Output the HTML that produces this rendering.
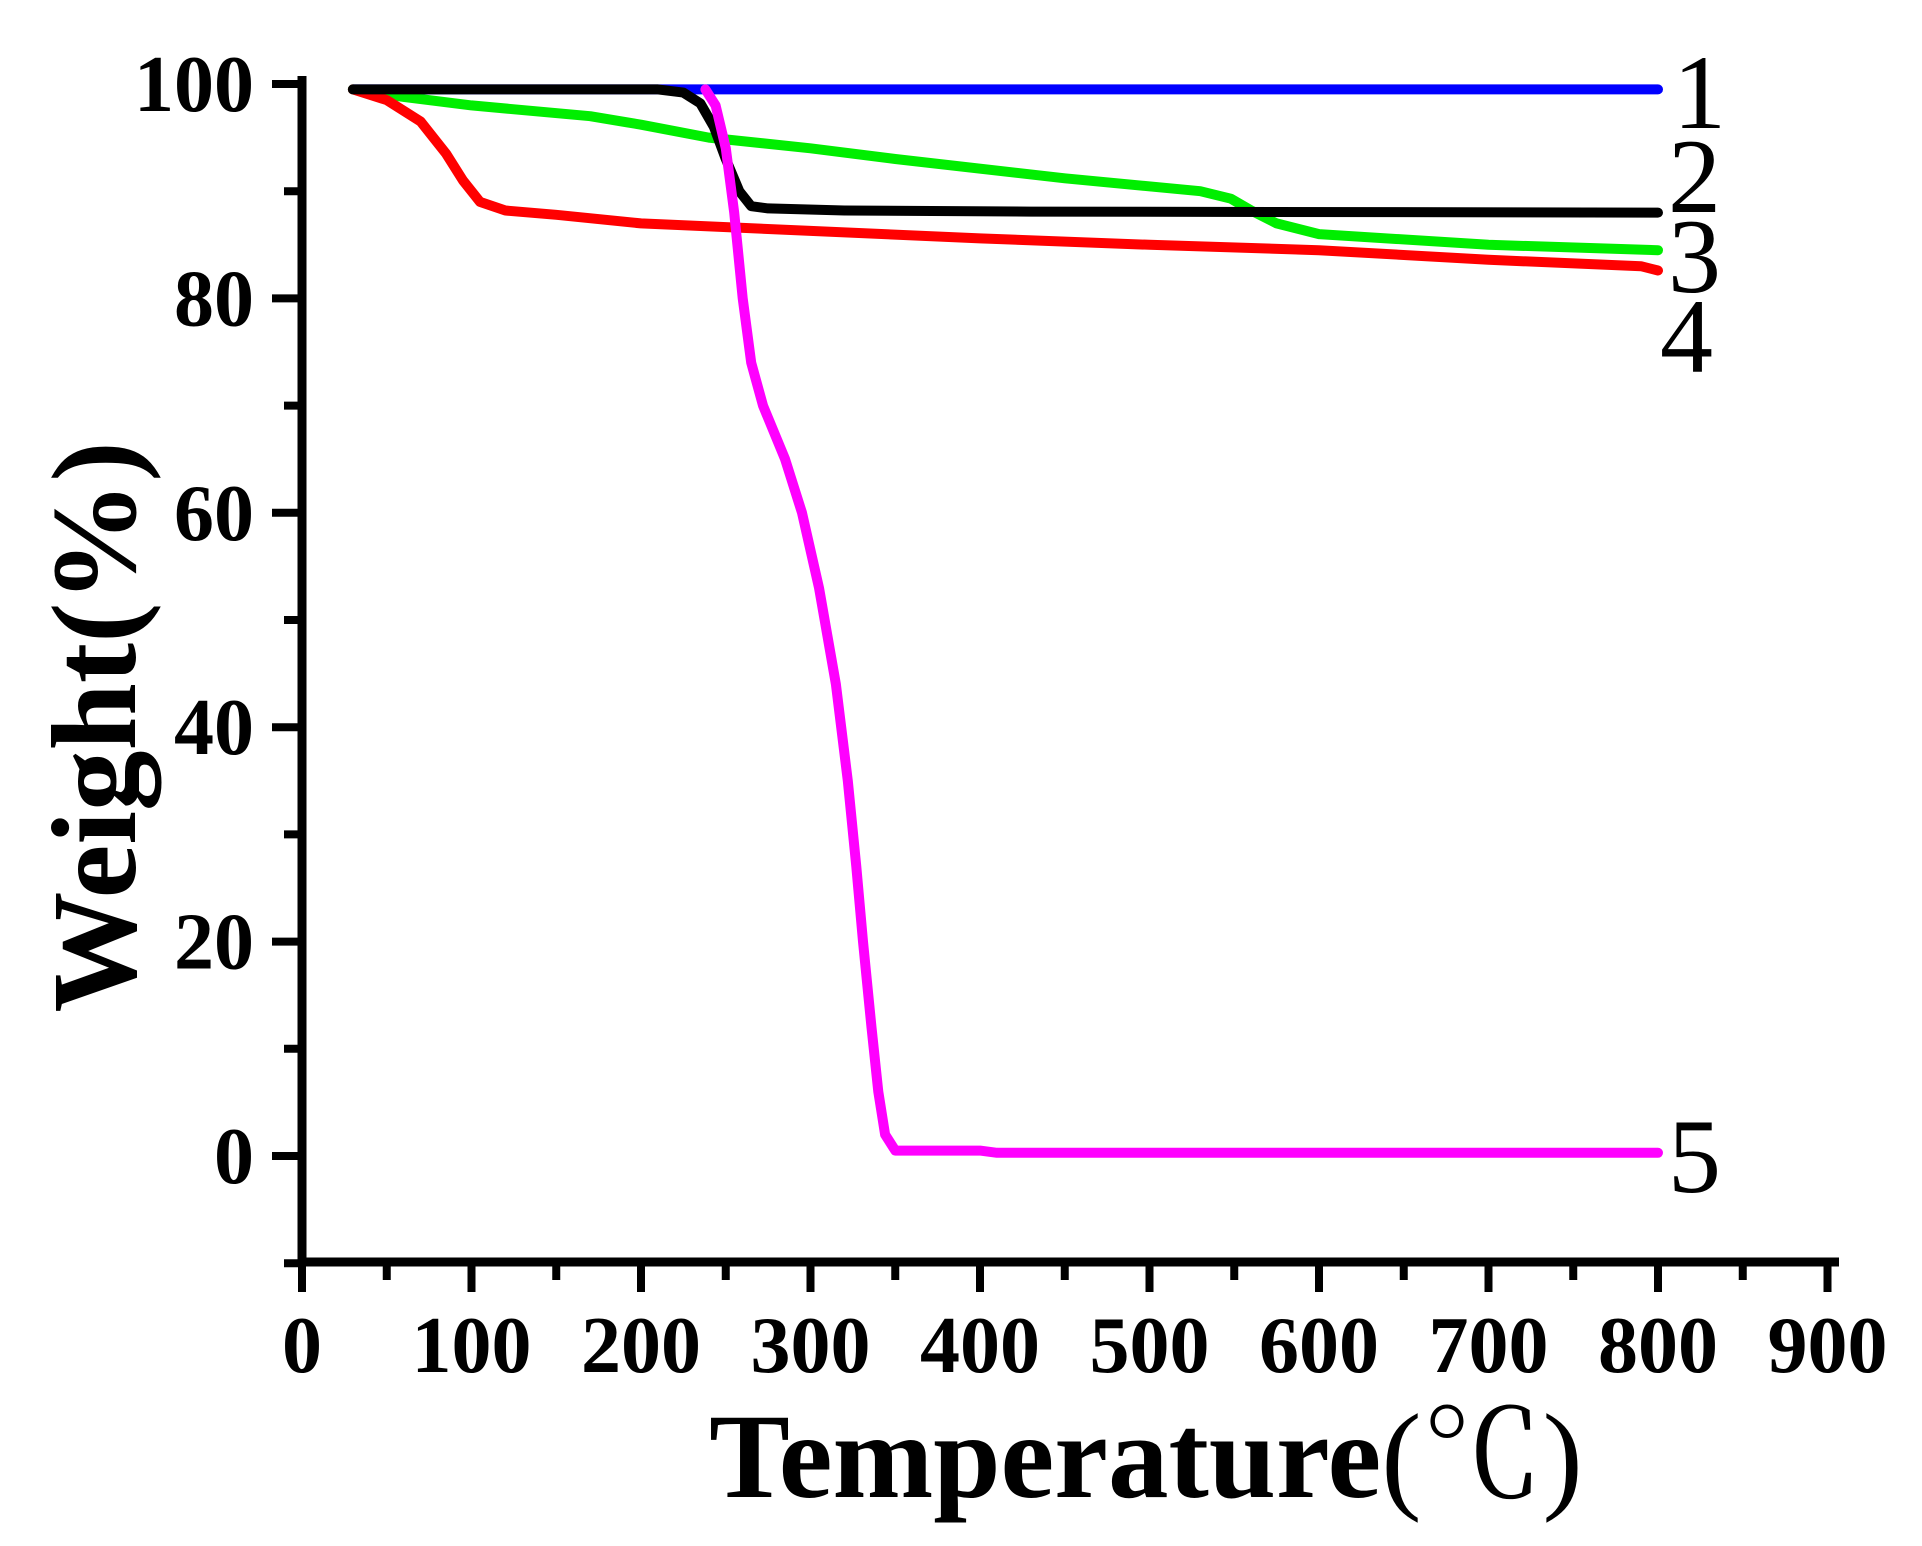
<!DOCTYPE html>
<html><head><meta charset="utf-8"><style>
html,body{margin:0;padding:0;background:#fff;}
svg{display:block;}
.tk{font-family:"Liberation Serif","Noto Serif CJK SC",serif;font-weight:bold;font-size:80px;fill:#000;}
.lb{font-family:"Liberation Serif",serif;font-size:106px;fill:#000;}
.tt{font-family:"Liberation Serif","Noto Serif CJK SC",serif;font-weight:bold;font-size:121px;fill:#000;}
.cj{font-family:"Liberation Serif","Noto Serif CJK SC",serif;font-weight:normal;}
</style></head><body>
<svg width="1922" height="1546" viewBox="0 0 1922 1546" xmlns="http://www.w3.org/2000/svg">
<g id="plot" fill="none" stroke-linejoin="round" stroke-linecap="round"></g>
<g stroke="#000" stroke-width="9" fill="none">
<line x1="302" y1="76" x2="302" y2="1266"/>
<line x1="298" y1="1262" x2="1839" y2="1262"/>
</g>
<g id="ticks" stroke="#000" stroke-width="8"></g>
<g id="labels"></g>
<text class="lb" x="1673" y="128">1</text>
<text class="lb" x="1668" y="212">2</text>
<text class="lb" x="1668" y="292">3</text>
<text class="lb" x="1660" y="372">4</text>
<text class="lb" x="1668" y="1192">5</text>
<text class="tt" x="1146" y="1497" text-anchor="middle">Temperature<tspan class="cj">(℃)</tspan></text>
<text class="tt" transform="translate(135,727) rotate(-90)" text-anchor="middle">Weight(%)</text>
<script>
var X=t=>302+1.695*t, Y=w=>1156-10.72*w;
var series=[
["#0000ff",[[30,99.5],[800,99.5]]],
["#00ee00",[[30,99.5],[60,98.8],[100,98],[170,97],[200,96.2],[240,95],[300,94],[350,93],[450,91.2],[530,90],[548,89.3],[560,88.2],[575,87],[600,86],[700,85],[800,84.5]]],
["#ff0000",[[30,99.5],[50,98.5],[70,96.5],[85,93.5],[95,91],[105,89],[120,88.2],[150,87.8],[200,87],[300,86.3],[400,85.6],[500,85],[600,84.5],[700,83.6],[790,83],[800,82.6]]],
["#000000",[[30,99.5],[210,99.5],[225,99.2],[235,98.2],[243,96],[250,93],[258,90],[265,88.6],[275,88.4],[320,88.2],[430,88.1],[800,88.0]]],
["#ff00ff",[[238,99.5],[244,98],[250,94],[255,88],[260,80],[265,74],[272,70],[285,65],[295,60],[305,53],[315,44],[322,35],[327,27],[331,20],[336,12],[340,6],[344,2],[350,0.5],[400,0.5],[410,0.3],[800,0.3]]]
];
var g=document.getElementById('plot'),ns="http://www.w3.org/2000/svg";
series.forEach(s=>{var p=document.createElementNS(ns,'polyline');p.setAttribute('points',s[1].map(q=>X(q[0]).toFixed(1)+','+Y(q[1]).toFixed(1)).join(' '));p.setAttribute('stroke',s[0]);p.setAttribute('stroke-width','10');g.appendChild(p);});
var tk=document.getElementById('ticks'),lb=document.getElementById('labels');
function L(x1,y1,x2,y2){var l=document.createElementNS(ns,'line');l.setAttribute('x1',x1);l.setAttribute('y1',y1);l.setAttribute('x2',x2);l.setAttribute('y2',y2);tk.appendChild(l);}
function T(x,y,s,a){var t=document.createElementNS(ns,'text');t.setAttribute('x',x);t.setAttribute('y',y);t.setAttribute('class','tk');t.setAttribute('text-anchor',a);t.textContent=s;lb.appendChild(t);}
for(var t=0;t<=900;t+=50){var x=X(t);L(x,1262,x,t%100==0?1292:1280);if(t%100==0)T(x,1372,String(t),'middle');}
for(var w=-10;w<=100;w+=10){var y=Y(w);L(302,y,w%20==0?272:284,y);if(w%20==0&&w>=0)T(254,y+27,String(w),'end');}
</script>
</svg>
</body></html>
